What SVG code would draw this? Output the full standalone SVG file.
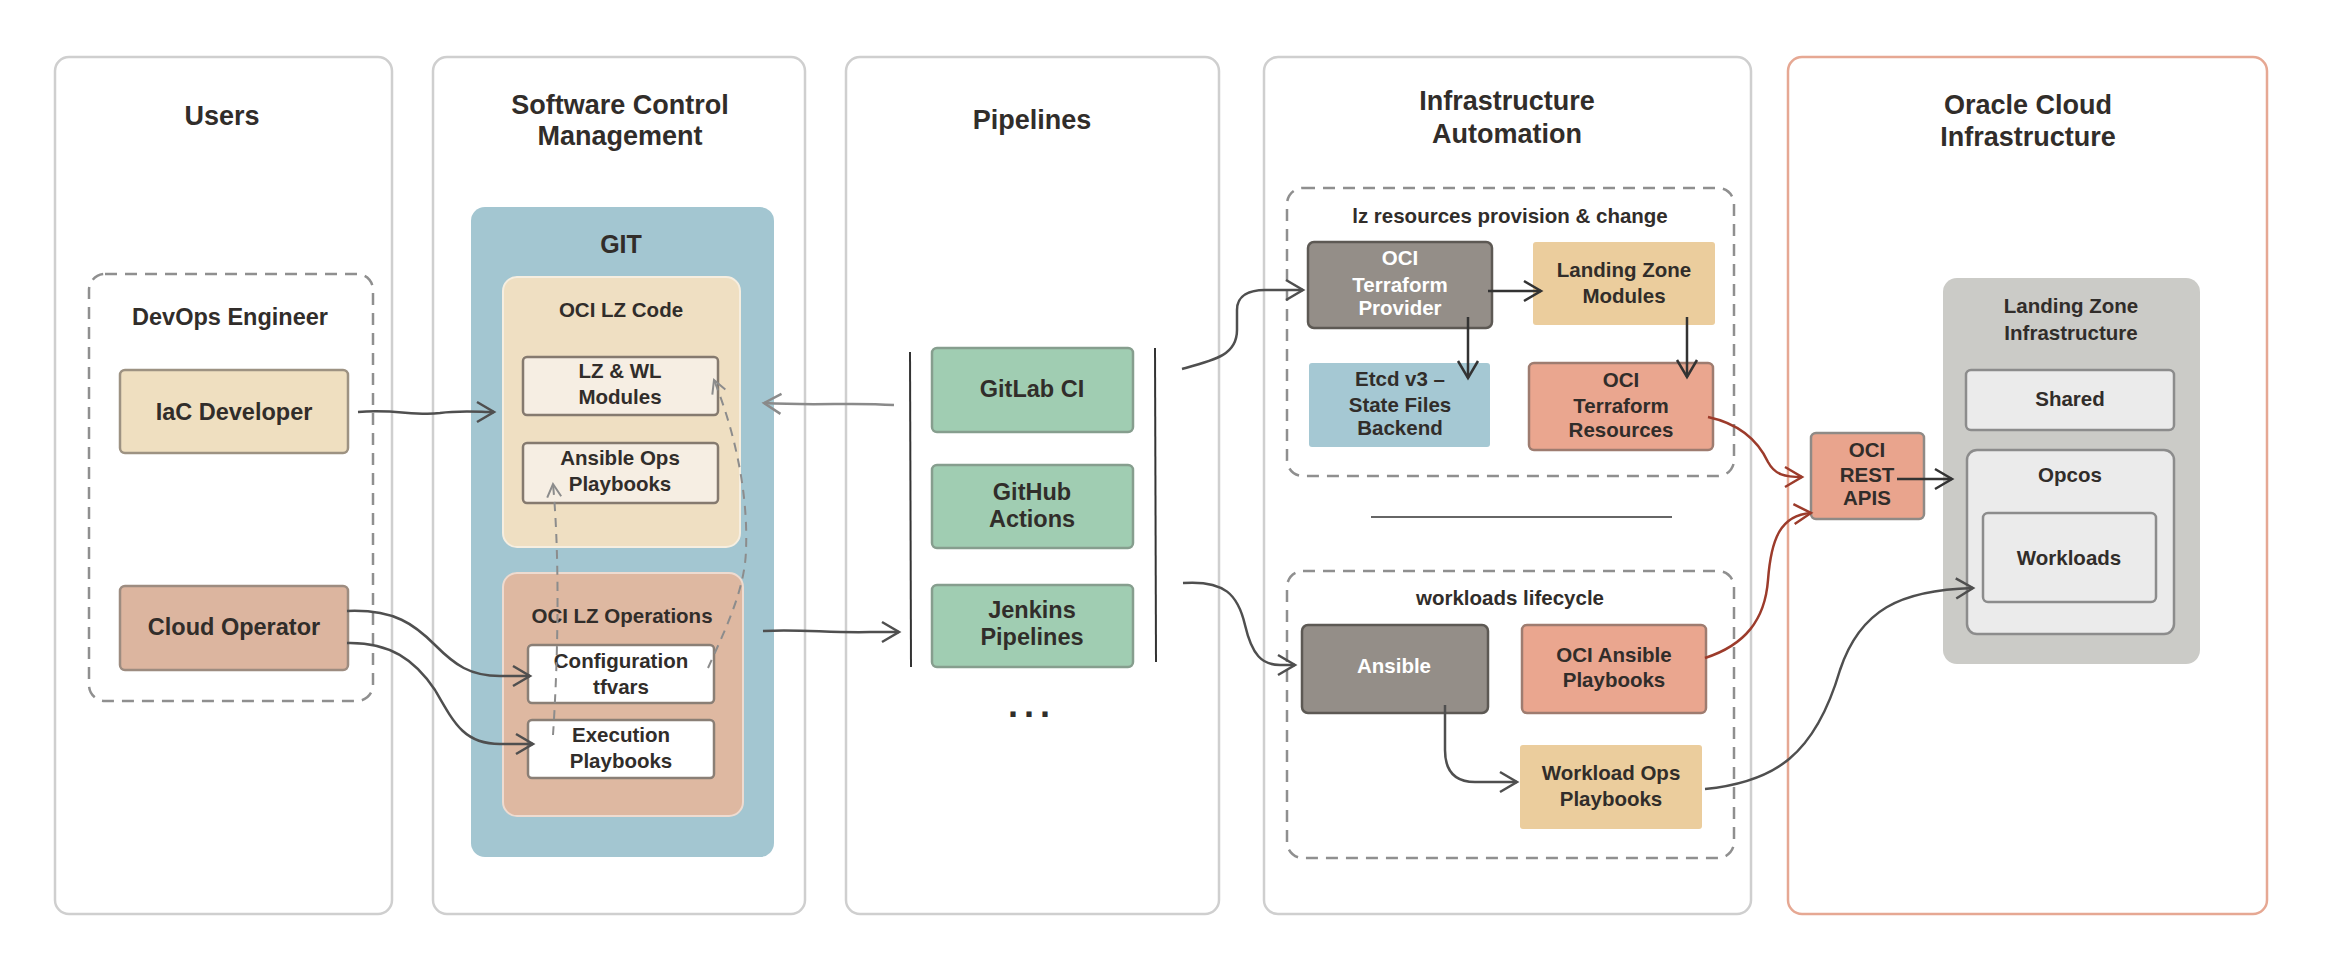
<svg xmlns="http://www.w3.org/2000/svg" width="2336" height="954" viewBox="0 0 2336 954">
<style>
.col{fill:none;stroke:#cfcfcf;stroke-width:2.5}
.title{font-family:"Liberation Sans",Arial,sans-serif;font-weight:bold;font-size:27px;fill:#312d2a;text-anchor:middle}
.lbl{font-family:"Liberation Sans",Arial,sans-serif;font-weight:bold;font-size:20.5px;fill:#312d2a;text-anchor:middle}
.lbl-lg{font-family:"Liberation Sans",Arial,sans-serif;font-weight:bold;font-size:23.5px;fill:#312d2a;text-anchor:middle}
.white{fill:#ffffff}
.grp{fill:none;stroke:#8f8f8f;stroke-width:2.5;stroke-dasharray:12 8}
.wire{fill:none;stroke:#4f4f4f;stroke-width:2.5}
.wire-dk{fill:none;stroke:#333333;stroke-width:2.5}
.wire-lt{fill:none;stroke:#8a8a8a;stroke-width:2.5}
.wire-red{fill:none;stroke:#9c3b2b;stroke-width:2.5}
.wire-dash{fill:none;stroke:#8c8c8c;stroke-width:2;stroke-dasharray:9 7}
</style>
<defs>
<marker id="ah-dark" viewBox="-20 -12 24 24" refX="0" refY="0" markerWidth="24" markerHeight="24" markerUnits="userSpaceOnUse" orient="auto"><path d="M-17,-10 L0,0 L-17,10" fill="none" stroke="#4f4f4f" stroke-width="2.5"/></marker>
<marker id="ah-black" viewBox="-20 -12 24 24" refX="0" refY="0" markerWidth="24" markerHeight="24" markerUnits="userSpaceOnUse" orient="auto"><path d="M-17,-10 L0,0 L-17,10" fill="none" stroke="#333333" stroke-width="2.5"/></marker>
<marker id="ah-light" viewBox="-20 -12 24 24" refX="0" refY="0" markerWidth="24" markerHeight="24" markerUnits="userSpaceOnUse" orient="auto"><path d="M-17,-10 L0,0 L-17,10" fill="none" stroke="#8a8a8a" stroke-width="2.5"/></marker>
<marker id="ah-red" viewBox="-20 -12 24 24" refX="0" refY="0" markerWidth="24" markerHeight="24" markerUnits="userSpaceOnUse" orient="auto"><path d="M-17,-10 L0,0 L-17,10" fill="none" stroke="#9c3b2b" stroke-width="2.5"/></marker>
<marker id="ah-dash" viewBox="-20 -12 24 24" refX="0" refY="0" markerWidth="24" markerHeight="24" markerUnits="userSpaceOnUse" orient="auto"><path d="M-13,-7 L0,0 L-13,7" fill="none" stroke="#8c8c8c" stroke-width="2"/></marker>
</defs>
<rect width="2336" height="954" fill="#ffffff"/>

<g id="col-users">
<rect class="col" x="55" y="57" width="337" height="857" rx="14"/>
<text class="title" x="222" y="125">Users</text>
</g>
<g id="col-scm">
<rect class="col" x="433" y="57" width="372" height="857" rx="14"/>
<text class="title" x="620" y="114">Software Control</text>
<text class="title" x="620" y="145">Management</text>
</g>
<g id="col-pipelines">
<rect class="col" x="846" y="57" width="373" height="857" rx="14"/>
<text class="title" x="1032" y="129">Pipelines</text>
</g>
<g id="col-infra">
<rect class="col" x="1264" y="57" width="487" height="857" rx="14"/>
<text class="title" x="1507" y="110">Infrastructure</text>
<text class="title" x="1507" y="143">Automation</text>
</g>
<g id="col-oci">
<rect x="1788" y="57" width="479" height="857" rx="14" fill="none" stroke="#e6a893" stroke-width="2.5"/>
<text class="title" x="2028" y="114">Oracle Cloud</text>
<text class="title" x="2028" y="146">Infrastructure</text>
</g>

<g id="devops-engineer">
<rect class="grp" x="89" y="274" width="284" height="427" rx="16"/>
<text class="lbl-lg" x="230" y="325">DevOps Engineer</text>
</g>
<g id="iac-developer">
<rect x="120" y="370" width="228" height="83" rx="5" fill="#efdfc0" stroke="#9d9282" stroke-width="2.5"/>
<text class="lbl-lg" x="234" y="420">IaC Developer</text>
</g>
<g id="cloud-operator">
<rect x="120" y="586" width="228" height="84" rx="5" fill="#dcb59f" stroke="#9d8c80" stroke-width="2.5"/>
<text class="lbl-lg" x="234" y="635">Cloud Operator</text>
</g>

<g id="git">
<rect x="471" y="207" width="303" height="650" rx="14" fill="#a3c6d1"/>
<text class="title" x="621" y="253" style="font-size:25px">GIT</text>
</g>
<g id="oci-lz-code">
<rect x="503" y="277" width="237" height="270" rx="14" fill="#efdfc2" stroke="#f6eee0" stroke-width="2"/>
<text class="lbl" x="621" y="317">OCI LZ Code</text>
</g>
<g id="lz-wl-modules">
<rect x="523" y="357" width="195" height="58" rx="4" fill="#f6eee3" stroke="#857a6f" stroke-width="2.5"/>
<text class="lbl" x="620" y="378">LZ &amp; WL</text>
<text class="lbl" x="620" y="404">Modules</text>
</g>
<g id="ansible-ops-playbooks">
<rect x="523" y="443" width="195" height="60" rx="4" fill="#f6eee3" stroke="#857a6f" stroke-width="2.5"/>
<text class="lbl" x="620" y="465">Ansible Ops</text>
<text class="lbl" x="620" y="491">Playbooks</text>
</g>
<g id="oci-lz-operations">
<rect x="503" y="573" width="240" height="243" rx="14" fill="#deb8a1" stroke="#eedbd0" stroke-width="2"/>
<text class="lbl" x="622" y="623">OCI LZ Operations</text>
</g>
<g id="configuration-tfvars">
<rect x="528" y="645" width="186" height="58" rx="4" fill="#ffffff" stroke="#8a7f76" stroke-width="2.5"/>
<text class="lbl" x="621" y="668">Configuration</text>
<text class="lbl" x="621" y="694">tfvars</text>
</g>
<g id="execution-playbooks">
<rect x="528" y="720" width="186" height="58" rx="4" fill="#ffffff" stroke="#8a7f76" stroke-width="2.5"/>
<text class="lbl" x="621" y="742">Execution</text>
<text class="lbl" x="621" y="768">Playbooks</text>
</g>

<g id="pipeline-bracket">
<path d="M910,352 L911,667" fill="none" stroke="#333333" stroke-width="2"/>
<path d="M1155,348 L1156,662" fill="none" stroke="#333333" stroke-width="2"/>
</g>
<g id="gitlab-ci">
<rect x="932" y="348" width="201" height="84" rx="5" fill="#a0cdb2" stroke="#869e8e" stroke-width="2.5"/>
<text class="lbl-lg" x="1032" y="397">GitLab CI</text>
</g>
<g id="github-actions">
<rect x="932" y="465" width="201" height="83" rx="5" fill="#a0cdb2" stroke="#869e8e" stroke-width="2.5"/>
<text class="lbl-lg" x="1032" y="500">GitHub</text>
<text class="lbl-lg" x="1032" y="527">Actions</text>
</g>
<g id="jenkins-pipelines">
<rect x="932" y="585" width="201" height="82" rx="5" fill="#a0cdb2" stroke="#869e8e" stroke-width="2.5"/>
<text class="lbl-lg" x="1032" y="618">Jenkins</text>
<text class="lbl-lg" x="1032" y="645">Pipelines</text>
</g>
<g id="pipelines-more">
<text class="lbl-lg" x="1032" y="717" style="font-size:36px;letter-spacing:6px">...</text>
</g>

<g id="lz-resources">
<rect class="grp" x="1287" y="188" width="447" height="288" rx="16"/>
<text class="lbl" x="1510" y="223">lz resources provision &amp; change</text>
</g>
<g id="oci-terraform-provider">
<rect x="1308" y="242" width="184" height="86" rx="6" fill="#948e88" stroke="#5d5954" stroke-width="2.5"/>
<text class="lbl white" x="1400" y="265">OCI</text>
<text class="lbl white" x="1400" y="292">Terraform</text>
<text class="lbl white" x="1400" y="315">Provider</text>
</g>
<g id="landing-zone-modules">
<rect x="1533" y="242" width="182" height="83" rx="3" fill="#ebcd9d"/>
<text class="lbl" x="1624" y="277">Landing Zone</text>
<text class="lbl" x="1624" y="303">Modules</text>
</g>
<g id="etcd-backend">
<rect x="1309" y="363" width="181" height="84" rx="3" fill="#a5c8d3"/>
<text class="lbl" x="1400" y="386">Etcd v3 –</text>
<text class="lbl" x="1400" y="412">State Files</text>
<text class="lbl" x="1400" y="435">Backend</text>
</g>
<g id="oci-terraform-resources">
<rect x="1529" y="363" width="184" height="87" rx="5" fill="#eaa68f" stroke="#9e7c70" stroke-width="2.5"/>
<text class="lbl" x="1621" y="387">OCI</text>
<text class="lbl" x="1621" y="413">Terraform</text>
<text class="lbl" x="1621" y="437">Resources</text>
</g>
<g id="separator">
<path d="M1371,517 L1672,517" fill="none" stroke="#333333" stroke-width="1.5"/>
</g>
<g id="workloads-lifecycle">
<rect class="grp" x="1287" y="571" width="447" height="287" rx="16"/>
<text class="lbl" x="1510" y="605">workloads lifecycle</text>
</g>
<g id="ansible">
<rect x="1302" y="625" width="186" height="88" rx="6" fill="#948e88" stroke="#5d5954" stroke-width="2.5"/>
<text class="lbl white" x="1394" y="673">Ansible</text>
</g>
<g id="oci-ansible-playbooks">
<rect x="1522" y="625" width="184" height="88" rx="5" fill="#eaa68f" stroke="#9e7c70" stroke-width="2.5"/>
<text class="lbl" x="1614" y="662">OCI Ansible</text>
<text class="lbl" x="1614" y="687">Playbooks</text>
</g>
<g id="workload-ops-playbooks">
<rect x="1520" y="745" width="182" height="84" rx="3" fill="#ebcd9d"/>
<text class="lbl" x="1611" y="780">Workload Ops</text>
<text class="lbl" x="1611" y="806">Playbooks</text>
</g>

<g id="oci-rest-apis">
<rect x="1811" y="433" width="113" height="86" rx="5" fill="#e9a48d" stroke="#8f8a86" stroke-width="2.5"/>
<text class="lbl" x="1867" y="457">OCI</text>
<text class="lbl" x="1867" y="482">REST</text>
<text class="lbl" x="1867" y="505">APIS</text>
</g>
<g id="landing-zone-infrastructure">
<rect x="1943" y="278" width="257" height="386" rx="14" fill="#cbcbc7"/>
<text class="lbl" x="2071" y="313">Landing Zone</text>
<text class="lbl" x="2071" y="340">Infrastructure</text>
</g>
<g id="shared">
<rect x="1966" y="370" width="208" height="60" rx="5" fill="#ebebeb" stroke="#8c8c8c" stroke-width="2.5"/>
<text class="lbl" x="2070" y="406">Shared</text>
</g>
<g id="opcos">
<rect x="1967" y="450" width="207" height="184" rx="10" fill="#ebebeb" stroke="#8c8c8c" stroke-width="2.5"/>
<text class="lbl" x="2070" y="482">Opcos</text>
</g>
<g id="workloads">
<rect x="1983" y="513" width="173" height="89" rx="5" fill="#ebebeb" stroke="#8c8c8c" stroke-width="2.5"/>
<text class="lbl" x="2069" y="565">Workloads</text>
</g>

<g id="connectors">
<path class="wire" d="M358,412 C395,409 415,416 440,413 C460,410 480,412 494,412" marker-end="url(#ah-dark)"/>
<path class="wire-lt" d="M894,405 C850,402 820,406 764,403" marker-end="url(#ah-light)"/>
<path class="wire" d="M763,631 C800,629 830,633 870,632 L899,632" marker-end="url(#ah-dark)"/>
<path class="wire" d="M347,611 C395,609 415,625 435,645 C455,665 470,676 500,676 L530,676" marker-end="url(#ah-dark)"/>
<path class="wire" d="M347,643 C390,642 415,660 435,690 C455,725 465,744 500,744 L533,744" marker-end="url(#ah-dark)"/>
<path class="wire-dash" d="M553,735 C558,660 560,560 553,484" marker-end="url(#ah-dash)"/>
<path class="wire-dash" d="M708,668 C725,630 745,590 746,550 C748,500 738,440 714,380" marker-end="url(#ah-dash)"/>
<path class="wire" d="M1182,369 C1215,360 1237,355 1237,330 L1237,310 C1237,295 1250,290 1265,290 L1303,290" marker-end="url(#ah-dark)"/>
<path class="wire" d="M1183,583 C1225,580 1238,595 1245,625 C1252,655 1262,665 1280,665 L1295,665" marker-end="url(#ah-dark)"/>
<path class="wire-dk" d="M1488,291 L1541,291" marker-end="url(#ah-black)"/>
<path class="wire-dk" d="M1468,317 L1468,378" marker-end="url(#ah-black)"/>
<path class="wire-dk" d="M1687,317 L1687,377" marker-end="url(#ah-black)"/>
<path class="wire-red" d="M1708,417 C1745,425 1760,445 1768,462 C1775,475 1785,477 1802,477" marker-end="url(#ah-red)"/>
<path class="wire-red" d="M1705,658 C1745,645 1765,620 1768,580 C1771,540 1780,515 1811,513" marker-end="url(#ah-red)"/>
<path class="wire-dk" d="M1897,479 L1952,479" marker-end="url(#ah-black)"/>
<path class="wire" d="M1445,705 L1445,750 C1445,772 1455,782 1475,782 L1517,782" marker-end="url(#ah-dark)"/>
<path class="wire" d="M1705,789 C1775,782 1815,755 1840,670 C1860,610 1900,590 1973,588" marker-end="url(#ah-dark)"/>
</g>
</svg>
